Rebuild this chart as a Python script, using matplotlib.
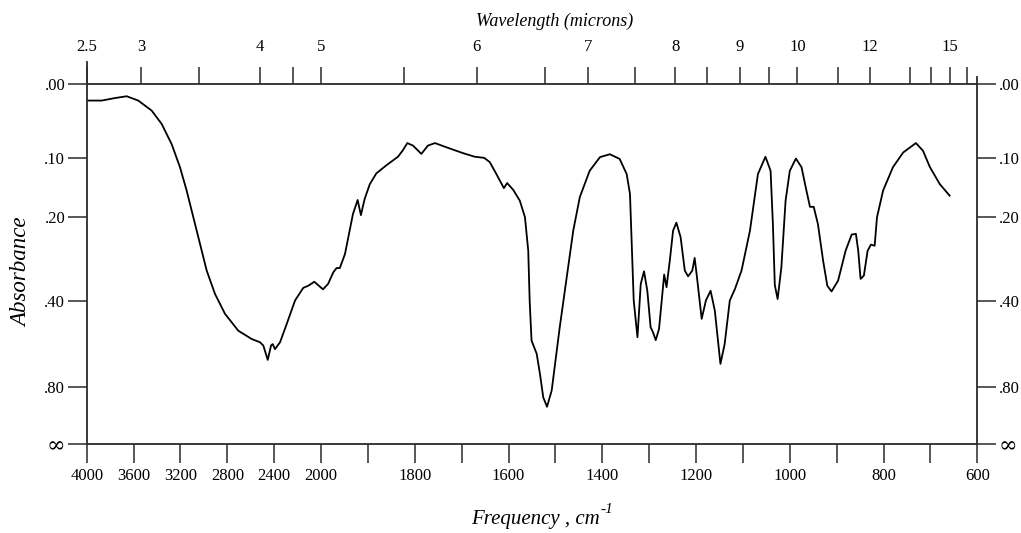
import numpy as np
import matplotlib
matplotlib.use("Agg")
import matplotlib.pyplot as plt

plt.rcParams['font.family'] = ['Liberation Serif', 'DejaVu Serif']

# ---- data: IR spectrum (frequency in cm^-1, percent transmittance) ----
freq_cm1 = [4000, 3872, 3758, 3659, 3560, 3445, 3360, 3275, 3204, 3147,
            3090, 3033, 2976, 2905, 2820, 2706, 2592, 2521, 2493, 2455,
            2427, 2413, 2393, 2350, 2293, 2222, 2152, 2109, 2058, 2009,
            1996, 1985, 1974, 1967, 1960, 1949, 1939, 1932, 1922, 1915,
            1907, 1896, 1882, 1860, 1836, 1826, 1816, 1804, 1786, 1772,
            1757, 1732, 1697, 1672, 1652, 1640, 1626, 1610, 1603, 1590,
            1576, 1565, 1558, 1555, 1551, 1540, 1533, 1526, 1518, 1508,
            1491, 1476, 1462, 1448, 1427, 1405, 1384, 1363, 1348, 1341,
            1338, 1333, 1325, 1318, 1311, 1304, 1297, 1292, 1286, 1279,
            1268, 1263, 1256, 1249, 1242, 1233, 1224, 1217, 1208, 1203,
            1198, 1188, 1179, 1169, 1160, 1148, 1139, 1128, 1117, 1103,
            1085, 1068, 1052, 1041, 1036, 1032, 1026, 1018, 1009, 1000,
            987, 975, 966, 957, 949, 940, 929, 920, 911, 897,
            881, 868, 859, 854, 849, 842, 834, 827, 819, 814,
            801, 780, 758, 731, 716, 701, 680, 659]

transmittance_pct = [95.4, 95.4, 96.1, 96.6, 95.4, 92.6, 88.9, 83.3, 76.9, 70.4,
                     63.0, 55.6, 48.2, 41.7, 36.2, 31.5, 29.2, 28.3, 27.4, 23.4,
                     27.4, 27.8, 26.4, 28.3, 33.4, 39.9, 43.4, 44.0, 45.1, 43.7,
                     43.0, 44.5, 47.7, 48.9, 48.9, 52.8, 59.3, 63.9, 67.8, 63.6,
                     68.1, 72.2, 75.2, 77.5, 79.8, 81.5, 83.6, 82.9, 80.6, 82.9,
                     83.6, 82.4, 80.8, 79.8, 79.5, 78.3, 75.0, 71.1, 72.5, 70.6,
                     67.6, 63.0, 53.7, 39.9, 28.8, 25.1, 19.5, 13.0, 10.4, 14.9,
                     32.3, 46.3, 59.3, 68.6, 75.9, 79.7, 80.5, 79.2, 75.0, 69.5,
                     58.4, 39.9, 29.7, 44.5, 48.0, 42.6, 32.5, 31.1, 28.9, 32.0,
                     47.1, 43.6, 51.0, 59.3, 61.5, 57.5, 48.2, 46.6, 48.2, 51.7,
                     46.3, 34.8, 39.9, 42.6, 37.1, 22.3, 27.8, 39.9, 43.1, 48.2,
                     59.3, 75.0, 79.8, 75.9, 60.9, 44.2, 40.3, 49.1, 67.6, 75.9,
                     79.3, 76.9, 71.3, 65.9, 65.9, 61.1, 51.0, 44.0, 42.4, 45.4,
                     53.7, 58.2, 58.4, 53.7, 45.9, 46.8, 53.7, 55.4, 55.1, 63.0,
                     70.4, 76.9, 81.0, 83.6, 81.5, 76.9, 72.2, 69.0]

# bottom axis ticks (cm^-1)
freq_ticks = [4000, 3600, 3200, 2800, 2400, 2000, 1900, 1800, 1700, 1600,
              1500, 1400, 1300, 1200, 1100, 1000, 900, 800, 700, 600]
freq_labels = ['4000', '3600', '3200', '2800', '2400', '2000', '', '1800', '', '1600',
               '', '1400', '', '1200', '', '1000', '', '800', '', '600']

# top axis ticks: positions (cm^-1) as drawn on the chart, wavelength labels (microns)
wl_tick_pos = [4000, 3537, 3044, 2521, 2242, 2000, 1823, 1668, 1523, 1430, 1330,
               1244, 1176, 1107, 1045, 984, 898, 829, 744, 698, 659, 621]
wl_labels = ['2.5', '3', '', '4', '', '5', '', '6', '', '7', '', '8', '', '9', '',
             '10', '', '12', '', '', '15', '']

# absorbance ticks
abs_ticks = [0.0, 0.1, 0.2, 0.4, 0.8, np.inf]
abs_labels = ['.00', '.10', '.20', '.40', '.80', '\u221e']

# ---- piecewise-linear frequency scale (4000-2000 compressed 4x) ----
def fwd(v):
    v = np.asarray(v, dtype=float)
    return np.where(v > 2000, 2000 + (v - 2000) / 4.0, v)

def inv(u):
    u = np.asarray(u, dtype=float)
    return np.where(u > 2000, 2000 + (u - 2000) * 4.0, u)

W, H = 1021, 533
fig = plt.figure(figsize=(W / 100, H / 100), dpi=100)
L, R, T, B = 86.7, 977.3, 84.0, 444.2
ax = fig.add_axes([L / W, 1 - B / H, (R - L) / W, (B - T) / H])

frame_c = '#2a2a2a'
ax.plot(freq_cm1, transmittance_pct, color='black', lw=1.3,
        solid_joinstyle='round')
ax.set_xscale('function', functions=(fwd, inv))
ax.set_xlim(4000, 600)
ax.set_ylim(0, 100)

for s in ax.spines.values():
    s.set_color(frame_c)
    s.set_linewidth(1.3)

ax.set_xticks(freq_ticks)
ax.set_xticklabels(freq_labels)
ax.xaxis.set_minor_locator(matplotlib.ticker.NullLocator())
ax.tick_params(axis='x', which='major', direction='out', length=13.7, width=1.1,
               color=frame_c, labelsize=12, pad=3.5)

ytick_pos = [0.0 if np.isinf(a) else 100 * 10 ** (-a) for a in abs_ticks]
ax.set_yticks(ytick_pos)
ax.set_yticklabels(abs_labels)
ax.yaxis.set_minor_locator(matplotlib.ticker.NullLocator())
ax.tick_params(axis='y', which='major', direction='out', length=13.5, width=1.1,
               color=frame_c, labelsize=12, pad=2,
               left=True, right=True, labelleft=True, labelright=True)
inf_tick = ax.yaxis.get_major_ticks()[-1]
for lab in (inf_tick.label1, inf_tick.label2):
    lab.set_fontsize(16)
    lab.set_fontfamily(['DejaVu Serif'])
    lab.set_fontweight('light')

ax2 = ax.twiny()
ax2.set_xscale('function', functions=(fwd, inv))
ax2.set_xlim(4000, 600)
for s in ax2.spines.values():
    s.set_visible(False)
ax2.set_xticks(wl_tick_pos)
ax2.set_xticklabels(wl_labels)
ax2.xaxis.set_minor_locator(matplotlib.ticker.NullLocator())
ax2.tick_params(axis='x', which='major', direction='out', length=12.6, width=1.1,
                color=frame_c, labelsize=12, pad=8.5)

# spine extensions above the frame
hpx = B - T
ax.plot([0, 0], [1, 1 + 22 / hpx], transform=ax.transAxes, clip_on=False,
        color=frame_c, lw=1.3)
ax.plot([1, 1], [1, 1 + 7 / hpx], transform=ax.transAxes, clip_on=False,
        color=frame_c, lw=1.3)

fig.text(554.5 / W, 1 - 21 / H, 'Wavelength (microns)', style='italic',
         fontsize=13, ha='center', va='center')
fig.text(22 / W, 1 - 272 / H, 'Absorbance', style='italic', rotation=90,
         fontsize=16.5, ha='center', va='center')

# Frequency label with italic "-1" superscript
t_main = fig.text(0, 1 - 524 / H, 'Frequency , cm', style='italic',
                  fontsize=15, ha='left', va='baseline')
t_sup = fig.text(0, 1 - 513 / H, '-1', style='italic',
                 fontsize=11, ha='left', va='baseline')
fig.canvas.draw()
r = fig.canvas.get_renderer()
w1 = t_main.get_window_extent(r).width
w2 = t_sup.get_window_extent(r).width
x0 = 542 - (w1 + w2 + 1) / 2
t_main.set_x(x0 / W)
t_sup.set_x((x0 + w1 + 1) / W)

fig.savefig('out.png', dpi=100)
